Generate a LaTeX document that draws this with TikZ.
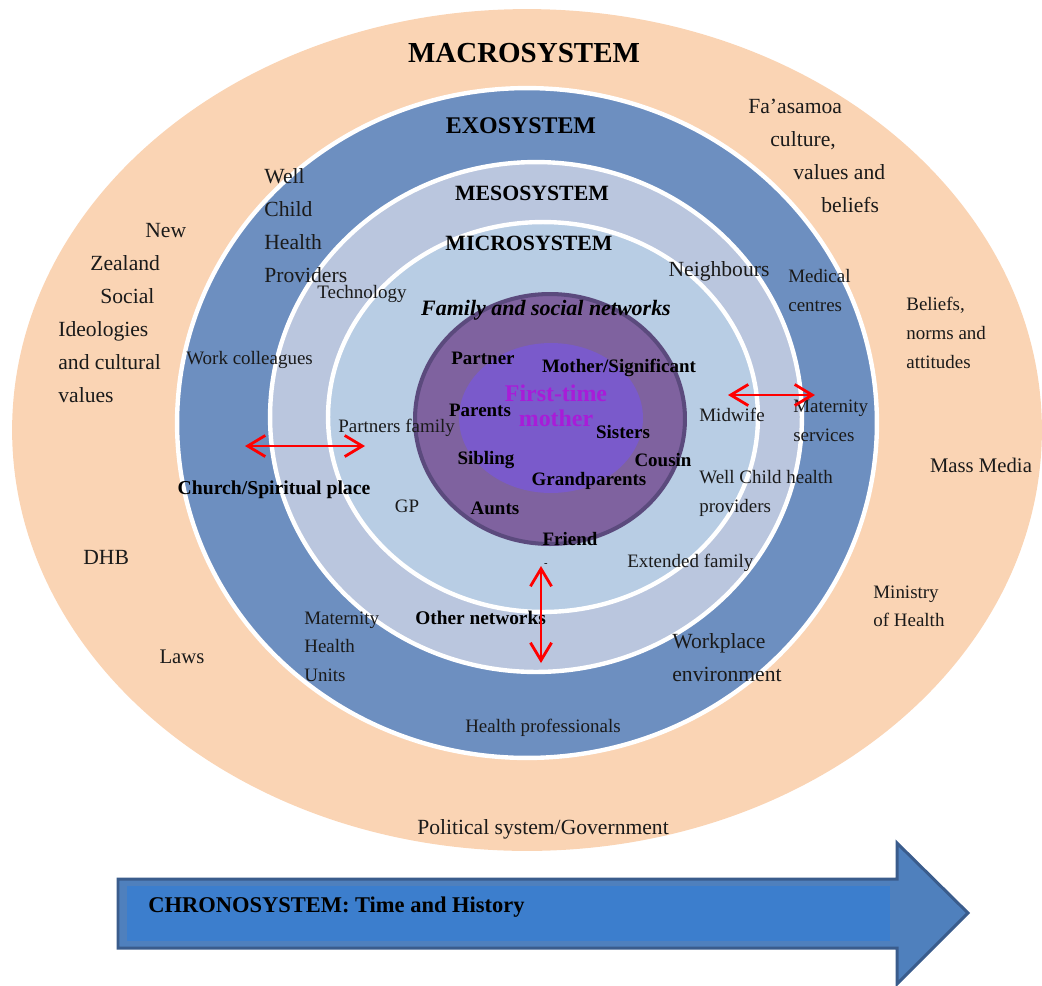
\documentclass[tikz,border=0pt]{standalone}
\usepackage{fontspec}
\setmainfont{Liberation Serif}
\usetikzlibrary{arrows.meta}
\definecolor{macroC}{HTML}{FAD4B4}
\definecolor{exoC}{HTML}{6D8FC0}
\definecolor{mesoC}{HTML}{BAC6DE}
\definecolor{microC}{HTML}{B8CDE4}
\definecolor{famC}{HTML}{7F629F}
\definecolor{famB}{HTML}{5B4A7D}
\definecolor{firstC}{HTML}{7A5ACB}
\definecolor{ftmC}{HTML}{A81CD8}
\definecolor{chronoC}{HTML}{3C7ECD}
\definecolor{chronoH}{HTML}{4F80BD}
\definecolor{chronoB}{HTML}{3A5C8C}
\definecolor{txtC}{HTML}{1A1A1A}
\newcommand\fsz[1]{\fontsize{#1}{#1}\selectfont}
\tikzset{
  lbl/.style={inner sep=0pt, text=txtC, font=\fsz{10.8}},
  lblL/.style={inner sep=0pt, text=txtC, font=\fsz{12.3}},
  bld/.style={inner sep=0pt, text=black, font=\bfseries\fsz{10.8}},
  ttl/.style={inner sep=0pt, text=black, font=\bfseries\fsz{12.4}},
  ftmstyle/.style={inner sep=0pt, text=ftmC, font=\bfseries\fsz{13.6}},
  lw/.style={anchor=mid west},
  link/.style={red, line width=1.6pt, {Straight Barb[length=10pt,width=12pt]}-{Straight Barb[length=10pt,width=12pt]}}
}
\begin{document}
\begin{tikzpicture}[x=0.02cm, y=-0.02cm]
\useasboundingbox (0,0) rectangle (1042,985);
% rings
\fill[macroC] (527,430) ellipse [x radius=10.3cm, y radius=8.42cm];
\filldraw[fill=exoC, draw=white, line width=2.5pt] (527,423) ellipse [x radius=7cm, y radius=6.7cm];
\filldraw[fill=mesoC, draw=white, line width=2.5pt] (536,417) ellipse [x radius=5.32cm, y radius=5.1cm];
\filldraw[fill=microC, draw=white, line width=2.5pt] (543,417) ellipse [x radius=4.3cm, y radius=3.9cm];
\filldraw[fill=famC, draw=famB, line width=2.3pt] (550,419) ellipse [x radius=2.7cm, y radius=2.5cm];
\fill[firstC] (551,418) ellipse [x radius=1.84cm, y radius=1.5cm];

% macrosystem
\node[inner sep=0pt, font=\bfseries\fsz{16.5}] (macro) at (524,53) {MACROSYSTEM};
\node[lblL, lw] (nz1) at (145,233) {New};
\node[lblL, lw] (nz2) at (90,266) {Zealand};
\node[lblL, lw] (nz3) at (100,299) {Social};
\node[lblL, lw] (nz4) at (58,332) {Ideologies};
\node[lblL, lw] (nz5) at (58,365) {and cultural};
\node[lblL, lw] (nz6) at (58,398) {values};
\node[lblL, lw] (fa1) at (748,109) {Fa’asamoa};
\node[lblL, lw] (fa2) at (770,142) {culture,};
\node[lblL, lw] (fa3) at (793,175) {values and};
\node[lblL, lw] (fa4) at (821,208) {beliefs};
\node[lbl, lw] (bn1) at (906,306) {Beliefs,};
\node[lbl, lw] (bn2) at (906,335) {norms and};
\node[lbl, lw] (bn3) at (906,364) {attitudes};
\node[inner sep=0pt, text=txtC, font=\fsz{11.8}] (media) at (981,465) {Mass Media};
\node[lblL, lw] (dhb) at (83,560) {DHB};
\node[inner sep=0pt, text=txtC, font=\fsz{11.8}] (laws) at (182,657) {Laws};
\node[lbl, lw] (moh1) at (873,594) {Ministry};
\node[lbl, lw] (moh2) at (873,622) {of Health};
\node[lblL] (pol) at (543,829) {Political system/Government};

% exosystem
\node[inner sep=0pt, font=\bfseries\fsz{13.6}] (exo) at (521,126) {EXOSYSTEM};
\node[lblL, lw] (well1) at (264,179) {Well};
\node[lblL, lw] (well2) at (264,212) {Child};
\node[lblL, lw] (well3) at (264,245) {Health};
\begin{scope}
\clip (240,250) rectangle (400,282);
\node[lblL, lw] (well4) at (264,278) {Providers};
\end{scope}
\node[lbl, lw] (work) at (186,360) {Work colleagues};
\node[inner sep=0pt, font=\bfseries\fsz{11.2}] (church) at (274,490) {Church/Spiritual place};
\node[lbl, lw] (med1) at (788,278) {Medical};
\node[lbl, lw] (med2) at (788,307) {centres};
\node[lbl, lw] (mat1) at (793,408) {Maternity};
\node[lbl, lw] (mat2) at (793,437) {services};
\node[lbl, lw] (mhu1) at (304,620) {Maternity};
\node[lbl, lw] (mhu2) at (304,648) {Health};
\node[lbl, lw] (mhu3) at (304,677) {Units};
\node[lblL, lw] (wp1) at (672,644) {Workplace};
\node[lblL, lw] (wp2) at (672,677) {environment};
\node[lbl] (hp) at (543,728) {Health professionals};

% mesosystem
\node[ttl] (meso) at (532,193) {MESOSYSTEM};
\node[bld, font=\bfseries\fsz{11}, lw] (other) at (415,620) {Other networks};

% microsystem
\node[ttl] (micro) at (529,243) {MICROSYSTEM};
\node[lbl, lw] (tech) at (317,294) {Technology};
\node[lblL] (neigh) at (719,271) {Neighbours};
\node[lbl, lw] (pfam) at (338,428) {Partners family};
\node[lbl, lw] (mid) at (699,417) {Midwife};
\node[lbl, lw] (wc1) at (699,479) {Well Child health};
\node[lbl, lw] (wc2) at (699,508) {providers};
\node[lbl] (gp) at (407,506) {GP};
\node[lbl, lw] (ext) at (627,563) {Extended family};
\node[inner sep=0pt, font=\fsz{6}] (dash) at (546,565) {-};

% family and social networks
\node[inner sep=0pt, font=\bfseries\itshape\fsz{12.5}] (fam) at (546,310) {Family and social networks};
\node[bld] (partner) at (483,358) {Partner};
\node[bld] (mother) at (619,368) {Mother/Significant};
\node[bld] (parents) at (480,410) {Parents};
\node[bld] (sisters) at (623,432) {Sisters};
\node[bld] (sibling) at (486,460) {Sibling};
\node[bld] (cousin) at (663,460) {Cousin};
\node[bld] (grand) at (589,481) {Grandparents};
\node[bld] (aunts) at (495,508) {Aunts};
\node[bld] (friend) at (570,539) {Friend};
\node[ftmstyle] (ftm1) at (556,393) {First-time};
\node[ftmstyle] (ftm2) at (556,418) {mother};

% interaction arrows
\coordinate (la) at (245,446);
\coordinate (lb) at (365,446);
\coordinate (ra) at (728,395);
\coordinate (rb) at (815,395);
\coordinate (va) at (541,566);
\coordinate (vb) at (541,663);
\draw[link] (la) -- (lb);
\draw[link] (ra) -- (rb);
\draw[link] (va) -- (vb);

% chronosystem
\filldraw[fill=chronoH, draw=chronoB, line width=1.7pt, line join=miter] (118,879) -- (897,879) -- (897,843) -- (968,913) -- (897,984) -- (897,948) -- (118,948) -- cycle;
\fill[chronoC] (127,886) rectangle (890,941);
\node[inner sep=0pt, font=\bfseries\fsz{12.8}, anchor=mid west] (chrono) at (148,908) {CHRONOSYSTEM: Time and History};
\end{tikzpicture}
\end{document}
